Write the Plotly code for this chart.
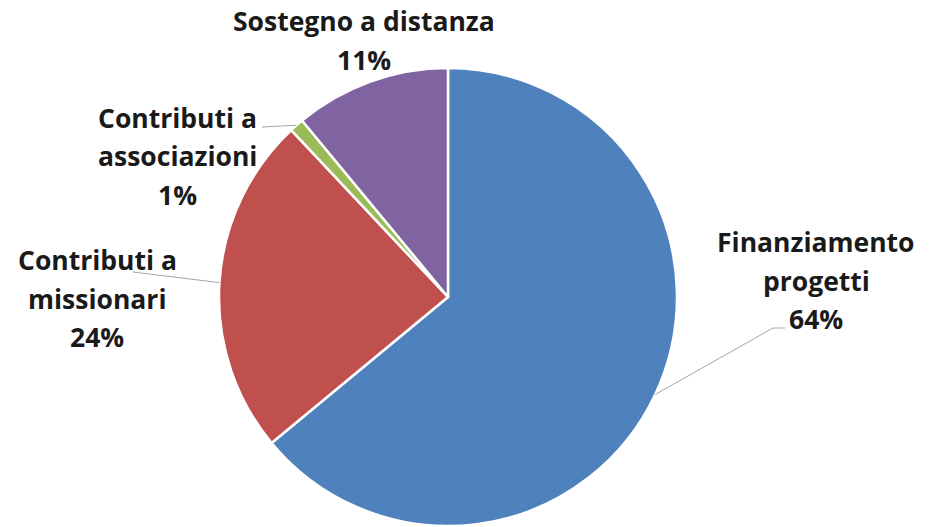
import math
import plotly.graph_objects as go

# Slice data, clockwise from 12 o'clock
categories = ["Finanziamento progetti", "Contributi a missionari",
              "Contributi a associazioni", "Sostegno a distanza"]
values = [64, 24, 1, 11]
label_lines = [
    ["Finanziamento", "progetti", "64%"],
    ["Contributi a", "missionari", "24%"],
    ["Contributi a", "associazioni", "1%"],
    ["Sostegno a distanza", "11%"],
]
colors = ["#4F81BD", "#C0504D", "#9BBB59", "#8064A2"]

W, H = 932, 527
CX, CY, R = 448, 297, 229  # pie centre and radius in pixels

# label layout: centre x, first line y, line step (pixels)
label_pos = [(816, 242), (97, 260), (177, 118), (364, 21)]
LINE_STEP = 38.5
# leader line text-side anchors (None = no leader)
leader_from = [[(785, 328), (773, 328)], [(133, 272)], [(262, 127)], None]


def px(x, y):
    return x / W, 1 - y / H


fig = go.Figure()
fig.add_trace(go.Pie(
    labels=categories,
    values=values,
    sort=False,
    direction="clockwise",
    rotation=0,
    marker=dict(colors=colors, line=dict(color="white", width=2.5)),
    textinfo="none",
    hoverinfo="label+percent",
    domain=dict(x=[(CX - R) / W, (CX + R) / W],
                y=[(H - CY - R) / H, (H - CY + R) / H]),
    showlegend=False,
))

total = sum(values)
cum = 0
for i, v in enumerate(values):
    mid = (cum + v / 2) / total * 2 * math.pi
    cum += v
    # text lines
    lx, ly = label_pos[i]
    for j, line in enumerate(label_lines[i]):
        ax, ay = px(lx, ly + j * LINE_STEP)
        fig.add_annotation(
            x=ax, y=ay, xref="paper", yref="paper",
            text=line, showarrow=False,
            xanchor="center", yanchor="middle",
            font=dict(family="Open Sans", size=26.5, color="#1a1a1a", weight="bold"),
        )
    # leader line to slice edge
    if leader_from[i]:
        ex = CX + R * math.sin(mid)
        ey = CY - R * math.cos(mid)
        pts = leader_from[i] + [(ex, ey)]
        for (x0, y0), (x1, y1) in zip(pts[:-1], pts[1:]):
            p0, p1 = px(x0, y0), px(x1, y1)
            fig.add_shape(type="line", xref="paper", yref="paper",
                          x0=p0[0], y0=p0[1], x1=p1[0], y1=p1[1],
                          line=dict(color="#a6a6a6", width=1))

fig.update_layout(
    width=W, height=H,
    margin=dict(l=0, r=0, t=0, b=0),
    paper_bgcolor="white",
    plot_bgcolor="white",
)

fig.write_html("out.html", config={"displayModeBar": False},
               post_script="document.body.style.margin='0';")
